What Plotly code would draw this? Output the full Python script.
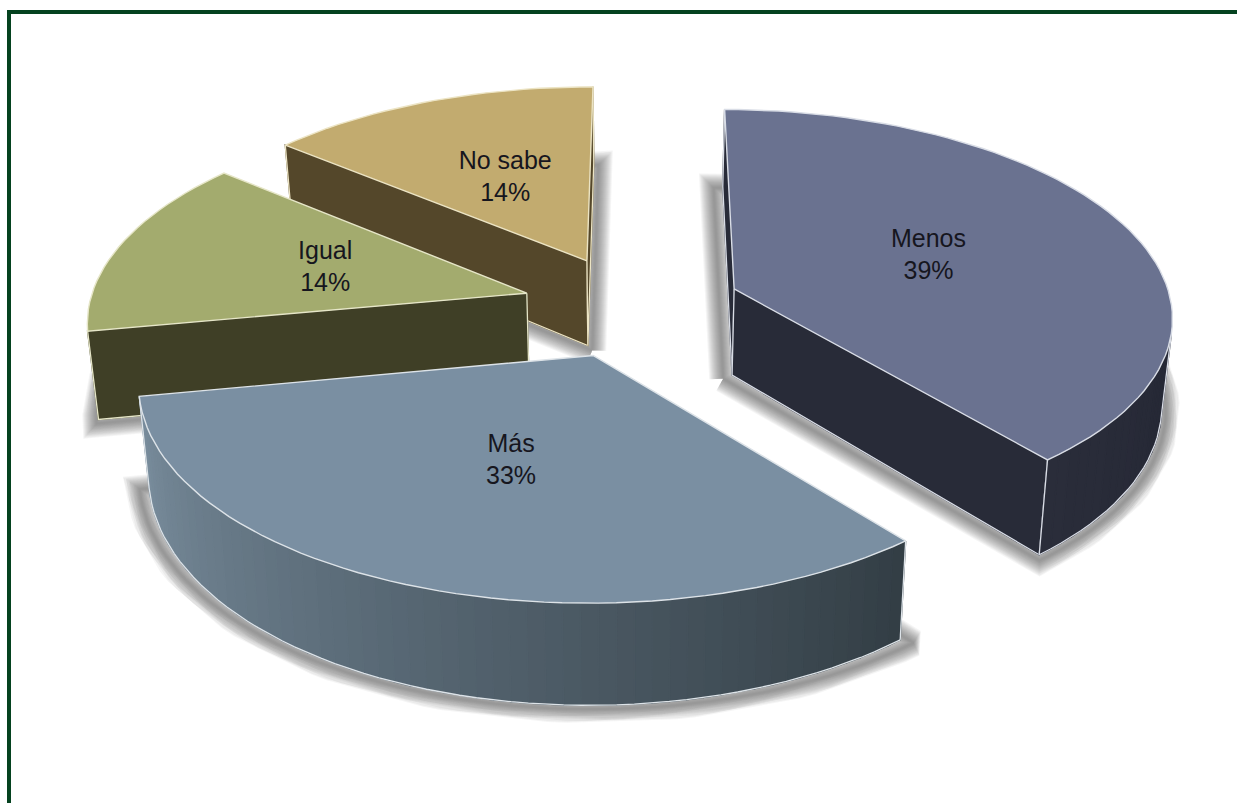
import math
import plotly.graph_objects as go

# Survey shares, clockwise from the top of the pie
categorias = ["Menos", "Más", "Igual", "No sabe"]
porcentajes = [39, 33, 14, 14]

# Colours per slice
color_tapa = ["#6a7290", "#7a8fa2", "#a3ab6e", "#c2ab6f"]
color_lado = ["#282b38", "#37424a", "#3f3f26", "#54472a"]
color_arco = [
    ["#2a2d3a", "#252835"],
    ["#7a8e9e", "#566672", "#333e45"],
    ["#3f3f26", "#3f3f26"],
    ["#54472a", "#54472a"],
]
color_borde = ["#d9dde6", "#dde3e8", "#e6e6c8", "#ece4c4"]

# Pie geometry, in units of the pie radius and page pixels
INICIO = 0.2
SEPARACION = 0.25
RADIO_ETIQUETA = 0.49
CX, Y_HORIZONTE, A = 632.0, -1402.0, 1708.0
ESCALA_X, PERSPECTIVA = 438.0, 0.12
GROSOR, FUGA = 87.0, 0.02


def proyecta(X, Y, z=0.0):
    w = 1 + PERSPECTIVA * Y
    return (
        CX + ESCALA_X * X / w * (1 - FUGA * z),
        Y_HORIZONTE + A / w + GROSOR * z / w,
    )


def direccion(theta):
    t = math.radians(theta)
    return math.sin(t), math.cos(t)


def hex_rgb(c):
    return tuple(int(c[i:i + 2], 16) for i in (1, 3, 5))


def mezcla(paradas, t):
    pos = t * (len(paradas) - 1)
    i = min(int(pos), len(paradas) - 2)
    f = pos - i
    a, b = hex_rgb(paradas[i]), hex_rgb(paradas[i + 1])
    return "rgb(%d,%d,%d)" % tuple(round(a[k] + (b[k] - a[k]) * f) for k in range(3))


def area(pts):
    s = 0.0
    for (x0, y0), (x1, y1) in zip(pts, pts[1:] + pts[:1]):
        s += x0 * y1 - x1 * y0
    return s / 2


fig = go.Figure()


def poligono(pts, relleno, borde=None, ancho=0.0):
    xs = [p[0] for p in pts] + [pts[0][0]]
    ys = [p[1] for p in pts] + [pts[0][1]]
    fig.add_trace(go.Scatter(
        x=xs, y=ys, mode="lines", fill="toself", fillcolor=relleno,
        line=dict(color=borde or relleno, width=ancho if borde else 1.4),
        hoverinfo="skip", showlegend=False,
    ))


def linea(pts, color, ancho=1.3):
    fig.add_trace(go.Scatter(
        x=[p[0] for p in pts], y=[p[1] for p in pts], mode="lines",
        line=dict(color=color, width=ancho), hoverinfo="skip", showlegend=False,
    ))


# Angular extent of each slice
porciones = []
acumulado = INICIO
for valor in porcentajes:
    fin = acumulado + valor * 3.6
    medio = (acumulado + fin) / 2
    dx, dy = direccion(medio)
    porciones.append((acumulado, fin, medio, dx * SEPARACION, dy * SEPARACION))
    acumulado = fin


def arco(p, z):
    t0, t1, _, ox, oy = p
    n = max(8, int((t1 - t0) / 2))
    return [
        proyecta(ox + direccion(t0 + (t1 - t0) * i / n)[0],
                 oy + direccion(t0 + (t1 - t0) * i / n)[1], z)
        for i in range(n + 1)
    ]


# Soft floor shadows: a widened footprint with strokes of growing width
for p in porciones:
    base = [proyecta(p[3], p[4], 1.0)] + arco(p, 1.0)
    mx = sum(q[0] for q in base) / len(base)
    my = sum(q[1] for q in base) / len(base)
    copia = [(mx + (x - mx) * 1.03, my + (y - my) * 1.012 + 3) for x, y in base]
    xs = [q[0] for q in copia] + [copia[0][0]]
    ys = [q[1] for q in copia] + [copia[0][1]]
    for capa in range(14, 0, -1):
        fig.add_trace(go.Scatter(
            x=xs, y=ys, mode="lines",
            line=dict(color="rgba(70,70,70,0.055)", width=capa * 2.0),
            hoverinfo="skip", showlegend=False,
        ))

# Slices back to front so nearer solids cover farther ones
orden = [3, 2, 0, 1]
for k in orden:
    p = porciones[k]
    ox, oy = p[3], p[4]
    vertice_sup, vertice_inf = proyecta(ox, oy, 0), proyecta(ox, oy, 1)
    sup, inf = arco(p, 0), arco(p, 1)
    borde = color_borde[k]

    # Radial walls, drawn only where they face the viewer
    for extremo, signo in ((0, -1), (-1, 1)):
        cara = [vertice_sup, sup[extremo], inf[extremo], vertice_inf]
        if area(cara) * signo > 0:
            poligono(cara, color_lado[k])
            linea([sup[extremo], inf[extremo], vertice_inf, vertice_sup], borde)

    # Curved wall, shaded segment by segment
    visibles = [
        i for i in range(len(sup) - 1)
        if area([sup[i], sup[i + 1], inf[i + 1], inf[i]]) < 0
    ]
    if visibles:
        a, b = visibles[0], visibles[-1]
        for i in visibles:
            t = (i - a) / max(1, b - a)
            poligono([sup[i], sup[i + 1], inf[i + 1], inf[i]], mezcla(color_arco[k], 1 - t))
        linea(inf[a:b + 2], borde)
        linea([sup[a], inf[a]], borde)
        linea([sup[b + 1], inf[b + 1]], borde)

    # Top face
    poligono([vertice_sup] + sup, color_tapa[k], borde, 1.4)

# Category and share labels at mid-radius of each slice
for nombre, valor, p in zip(categorias, porcentajes, porciones):
    dx, dy = direccion(p[2])
    x, y = proyecta(p[3] + dx * RADIO_ETIQUETA, p[4] + dy * RADIO_ETIQUETA)
    fig.add_trace(go.Scatter(
        x=[x], y=[y], mode="text", text=[f"{nombre}<br>{valor}%"],
        textposition="middle center",
        textfont=dict(family="Liberation Sans", size=25, color="#16161e"),
        hoverinfo="skip", showlegend=False,
    ))

# Dark green frame along the top and left edges
fig.add_shape(type="line", xref="x", yref="y", x0=9, y0=803, x1=9, y1=12,
              line=dict(color="#05421f", width=4))
fig.add_shape(type="line", xref="x", yref="y", x0=7, y0=12, x1=1237, y1=12,
              line=dict(color="#05421f", width=4))

fig.update_xaxes(range=[0, 1237], visible=False, fixedrange=True)
fig.update_yaxes(range=[803, 0], visible=False, fixedrange=True)
fig.update_layout(
    width=1237, height=803,
    margin=dict(l=0, r=0, t=0, b=0),
    paper_bgcolor="white", plot_bgcolor="white",
    showlegend=False,
)
fig.write_html("out.html", config={"displayModeBar": False})
